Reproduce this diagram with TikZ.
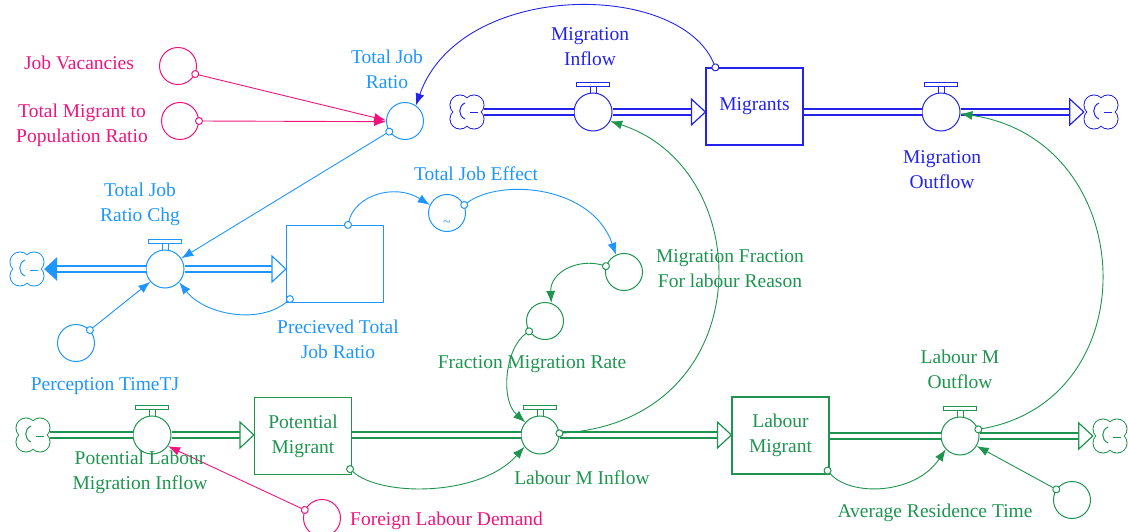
\documentclass[tikz,border=0pt]{standalone}
\usepackage{fontspec}
\setmainfont{Liberation Serif}
\usetikzlibrary{arrows.meta,calc}
\definecolor{pinkc}{RGB}{240,20,125}
\definecolor{lblue}{RGB}{30,150,255}
\definecolor{dblue}{RGB}{35,35,235}
\definecolor{gr}{RGB}{30,148,80}
\tikzset{
  lbl/.style={font=\fontsize{19.5}{25}\selectfont, align=center, inner sep=0pt},
  aux/.style={circle, draw=#1, line width=1pt, minimum size=37pt, inner sep=0pt, fill=white},
  valvec/.style={circle, draw=#1, line width=1pt, minimum size=38pt, inner sep=0pt, fill=white},
  stock/.style={rectangle, draw=#1, line width=1.2pt, minimum width=97pt, minimum height=77pt,
    inner sep=0pt, align=center, text=#1, font=\fontsize{19.5}{25}\selectfont},
  sinkspot/.style={circle, minimum size=34pt, inner sep=0pt},
  pipe/.style={draw=#1, line width=1.2pt, double=white, double distance=4.8pt},
  link/.style={draw=#1, line width=0.9pt, shorten <=-4pt,
    {Circle[length=8pt,width=8pt,fill=white,line width=1pt]}-{Latex[length=12pt,width=9pt]}},
}
% valve: name, x, y, colour
\newcommand\valve[4]{%
  \draw[#4, line width=0.9pt, fill=white] (#2-3,#3-19) rectangle (#2+3,#3-26);
  \draw[#4, line width=0.9pt, fill=white] (#2-16.5,#3-26) rectangle (#2+16.5,#3-30);
  \node[valvec=#4] (#1) at (#2,#3) {};
}
% source/sink cloud: name, x, y, colour
\newcommand\cloudnode[4]{%
  \foreach \dx/\dy in {-7/-7,7/-7,-7/7,7/7}
    \draw[#4, line width=1pt] (#2+\dx,#3+\dy) circle[radius=10pt];
  \foreach \dx/\dy in {-7/-7,7/-7,-7/7,7/7}
    \fill[white] (#2+\dx,#3+\dy) circle[radius=9.45pt];
  \draw[#4, line width=1pt] (#2-2,#3-9) .. controls (#2-9,#3-6) and (#2-9,#3+4) .. (#2-2,#3+7);
  \draw[#4, line width=1pt] (#2+3,#3+1) -- (#2+11,#3+1);
  \node[sinkspot] (#1) at (#2,#3) {};
}
% hollow flow arrowhead with its tip at the given point
\newcommand\openhead[2]{%
  \draw[#2, line width=1.2pt, fill=white, line join=miter] #1 -- ++(-14,-13) -- ++(0,26) -- cycle;
}
\begin{document}
\begin{tikzpicture}[x=1pt,y=-1pt]
\useasboundingbox (0,0) rectangle (1128,532);

% auxiliaries
\node[aux=pinkc] (jv) at (178,66) {};
\node[aux=pinkc] (tmp) at (180,121) {};
\node[aux=pinkc] (fld) at (322,518) {};
\node[aux=lblue] (tjr) at (405,121) {};
\node[aux=lblue] (tje) at (447,213) {};
\node[lbl, text=lblue, font=\fontsize{14}{14}\selectfont] (tjeT) at (447,224) {\textasciitilde};
\node[aux=lblue] (ptj) at (76,343) {};
\node[aux=gr] (mffl) at (624,272) {};
\node[aux=gr] (fmr) at (545,321) {};
\node[aux=gr] (art) at (1072,500) {};

% valves
\valve{mi}{593}{112}{dblue}
\valve{mo}{941}{112}{dblue}
\valve{tjrc}{165}{269}{lblue}
\valve{plmi}{152}{435}{gr}
\valve{lmi}{540}{435}{gr}
\valve{lmo}{960}{436}{gr}

% stocks
\node[stock=dblue] (mig) at (754.5,106.5) {Migrants};
\node[stock=lblue] (ptjr) at (335,264) {};
\node[stock=gr] (pm) at (303,436) {Potential\\Migrant};
\node[stock=gr] (lm) at (780.5,435.5) {Labour\\Migrant};

% clouds
\cloudnode{s1}{467}{112}{dblue}
\cloudnode{s2}{1101}{112}{dblue}
\cloudnode{s3}{27}{269}{lblue}
\cloudnode{s4}{33}{435}{gr}
\cloudnode{s5}{1110}{436}{gr}

% flows: migrants chain
\draw[pipe=dblue] (s1.east) -- (mi.west);
\draw[pipe=dblue] (mi.east) -- ($(mi.east -| mig.west)+(-14,0)$);
\openhead{(mi.east -| mig.west)}{dblue}
\draw[pipe=dblue] (mig.east |- mo.west) -- (mo.west);
\draw[pipe=dblue] (mo.east) -- ($(mo.east -| s2.west)+(-14,0)$);
\openhead{(mo.east -| s2.west)}{dblue}

% flows: perceived job ratio
\draw[pipe=lblue] (tjrc.west) -- ($(tjrc.west -| s3.east)+(13,0)$);
\fill[lblue] (tjrc.west -| s3.east) -- ++(13,-12) -- ++(0,24) -- cycle;
\draw[pipe=lblue] (tjrc.east) -- ($(tjrc.east -| ptjr.west)+(-14,0)$);
\openhead{(tjrc.east -| ptjr.west)}{lblue}

% flows: labour chain
\draw[pipe=gr] (s4.east) -- (plmi.west);
\draw[pipe=gr] (plmi.east) -- ($(plmi.east -| pm.west)+(-14,0)$);
\openhead{(plmi.east -| pm.west)}{gr}
\draw[pipe=gr] (lmi.west -| pm.east) -- (lmi.west);
\draw[pipe=gr] (lmi.east) -- ($(lmi.east -| lm.west)+(-14,0)$);
\openhead{(lmi.east -| lm.west)}{gr}
\draw[pipe=gr] (lmo.west -| lm.east) -- (lmo.west);
\draw[pipe=gr] (lmo.east) -- ($(lmo.east -| s5.west)+(-14,0)$);
\openhead{(lmo.east -| s5.west)}{gr}

% information links
\draw[link=pinkc] (jv.-25) -- (tjr.178);
\draw[link=pinkc] (tmp.0) -- (tjr.182);
\draw[link=pinkc] (fld.155) -- (plmi.-35);
\draw[link=lblue] (tjr.214) -- (tjrc.33);
\draw[link=lblue] (ptj.43) -- (tjrc.221);
\draw[link=lblue] ([shift={(4pt,4pt)}]ptjr.south west) .. controls (260,325) and (205,315) .. (tjrc.-43);
\draw[link=lblue] ([xshift=13pt]ptjr.north) .. controls (355,195) and (395,183) .. (tje.155);
\draw[link=lblue] (tje.25) .. controls (500,178) and (592,185) .. (mffl.115);
\draw[link=dblue] ([xshift=10pt]mig.north west) .. controls (680,-20) and (460,-20) .. (tjr.55);
\draw[link=gr] (mffl.162) .. controls (578,258) and (550,272) .. (fmr.71);
\draw[link=gr] (fmr.213) .. controls (505,348) and (500,400) .. (lmi.139);
\draw[link=gr] ([shift={(-2pt,6pt)}]pm.south east) .. controls (380,497) and (480,497) .. (lmi.217);
\draw[link=gr] ([shift={(-2pt,4pt)}]lm.south east) .. controls (850,497) and (915,495) .. (lmo.223);
\draw[link=gr] (art.146) -- (lmo.-31);
\draw[link=gr] (lmi.5) .. controls (760,420) and (760,170) .. (mi.-28);
\draw[link=gr] (lmo.20) .. controls (1150,400) and (1140,140) .. (mo.-5);

% labels
\node[lbl, text=pinkc] (jvL) at (79,63) {Job Vacancies};
\node[lbl, text=pinkc] (tmpL) at (82,125) {Total Migrant to\\Population Ratio};
\node[lbl, text=pinkc, anchor=west] (fldL) at (350,521) {Foreign Labour Demand};
\node[lbl, text=lblue] (tjrL) at (387,69) {Total Job\\Ratio};
\node[lbl, text=lblue] (tjrcL) at (140,204) {Total Job\\Ratio Chg};
\node[lbl, text=lblue] (tjeL) at (476,174) {Total Job Effect};
\node[lbl, text=lblue] (ptjrL) at (338,339) {Precieved Total\\Job Ratio};
\node[lbl, text=lblue] (ptjL) at (105,386) {Perception TimeTJ};
\node[lbl, text=dblue] (miL) at (590,47) {Migration\\Inflow};
\node[lbl, text=dblue] (moL) at (942,170) {Migration\\Outflow};
\node[lbl, text=gr] (mfflL) at (730,269) {Migration Fraction\\For labour Reason};
\node[lbl, text=gr] (fmrL) at (532,364) {Fraction Migration Rate};
\node[lbl, text=gr] (plmiL) at (140,472) {Potential Labour\\Migration Inflow};
\node[lbl, text=gr] (lmiL) at (582,478) {Labour M Inflow};
\node[lbl, text=gr] (lmoL) at (960,369) {Labour M\\Outflow};
\node[lbl, text=gr] (artL) at (935,513) {Average Residence Time};
\end{tikzpicture}
\end{document}
